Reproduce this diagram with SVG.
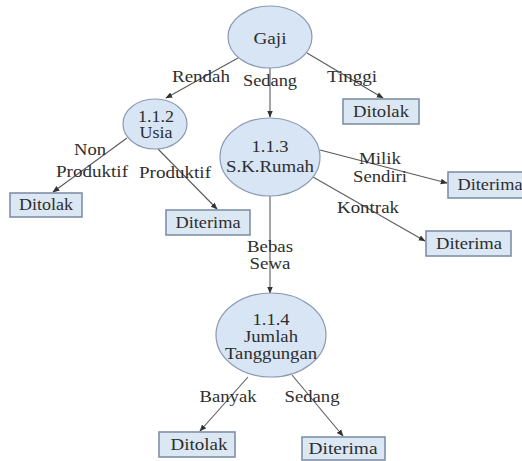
<svg xmlns="http://www.w3.org/2000/svg" width="522" height="461" viewBox="0 0 522 461">
<defs>
<marker id="arr" viewBox="0 0 10 10" refX="9" refY="5" markerWidth="7" markerHeight="7" orient="auto" markerUnits="userSpaceOnUse">
<path d="M0,1 L10,5 L0,9 Z" fill="#333"/>
</marker>
<style>
.bg{fill:#ffffff}
.ell{fill:#d8e5f4;stroke:#8a9ab2;stroke-width:1.2}
.box{fill:#dce7f4;stroke:#7f90a8;stroke-width:1.6}
.ln{stroke:#5a5a5a;stroke-width:1.1;fill:none;marker-end:url(#arr)}
text{font-family:"Liberation Serif","Times New Roman",serif;font-size:16px;fill:#2e2e2e;text-anchor:middle}
</style>
</defs>
<rect class="bg" x="0" y="0" width="522" height="461"/>
<g id="connectors">
<line class="ln" x1="238" y1="58" x2="166" y2="98"/>
<line class="ln" x1="270" y1="68" x2="270" y2="117"/>
<line class="ln" x1="307" y1="53" x2="383" y2="98"/>
<line class="ln" x1="127" y1="138" x2="53" y2="192"/>
<line class="ln" x1="158" y1="149" x2="217" y2="209"/>
<line class="ln" x1="320" y1="150" x2="447" y2="183"/>
<line class="ln" x1="313" y1="177" x2="425" y2="241"/>
<line class="ln" x1="270" y1="195" x2="270" y2="293"/>
<line class="ln" x1="248" y1="377" x2="200" y2="431"/>
<line class="ln" x1="292" y1="375" x2="343" y2="436"/>
<text x="201" y="82" textLength="58" lengthAdjust="spacingAndGlyphs">Rendah</text>
<text x="270" y="86" textLength="54" lengthAdjust="spacingAndGlyphs">Sedang</text>
<text x="352" y="82" textLength="50" lengthAdjust="spacingAndGlyphs">Tinggi</text>
<text x="90" y="155" textLength="32" lengthAdjust="spacingAndGlyphs">Non</text>
<text x="92" y="177" textLength="72" lengthAdjust="spacingAndGlyphs">Produktif</text>
<text x="175" y="178" textLength="72" lengthAdjust="spacingAndGlyphs">Produktif</text>
<text x="380" y="164" textLength="42" lengthAdjust="spacingAndGlyphs">Milik</text>
<text x="380" y="182" textLength="54" lengthAdjust="spacingAndGlyphs">Sendiri</text>
<text x="368" y="213" textLength="62" lengthAdjust="spacingAndGlyphs">Kontrak</text>
<text x="270" y="252" textLength="46" lengthAdjust="spacingAndGlyphs">Bebas</text>
<text x="270" y="269" textLength="41" lengthAdjust="spacingAndGlyphs">Sewa</text>
<text x="228" y="402" textLength="57" lengthAdjust="spacingAndGlyphs">Banyak</text>
<text x="312" y="402" textLength="55" lengthAdjust="spacingAndGlyphs">Sedang</text>
</g>
<g id="gaji">
<ellipse class="ell" cx="270" cy="37" rx="42" ry="31"/>
<text x="270" y="44" textLength="33" lengthAdjust="spacingAndGlyphs">Gaji</text>
</g>
<g id="usia">
<ellipse class="ell" cx="155" cy="124" rx="32" ry="25"/>
<text x="156" y="122" textLength="36" lengthAdjust="spacingAndGlyphs">1.1.2</text>
<text x="156" y="138" textLength="33" lengthAdjust="spacingAndGlyphs">Usia</text>
</g>
<g id="skrumah">
<ellipse class="ell" cx="270" cy="157" rx="50" ry="39"/>
<text x="270" y="152" textLength="37" lengthAdjust="spacingAndGlyphs">1.1.3</text>
<text x="270" y="172" textLength="88" lengthAdjust="spacingAndGlyphs">S.K.Rumah</text>
</g>
<g id="jumlah">
<ellipse class="ell" cx="271" cy="335" rx="55" ry="42"/>
<text x="271" y="325" textLength="37" lengthAdjust="spacingAndGlyphs">1.1.4</text>
<text x="271" y="342" textLength="54" lengthAdjust="spacingAndGlyphs">Jumlah</text>
<text x="271" y="359" textLength="92" lengthAdjust="spacingAndGlyphs">Tanggungan</text>
</g>
<g id="ditolak-tinggi">
<rect class="box" x="343" y="99" width="76" height="25"/>
<text x="381" y="117" textLength="56" lengthAdjust="spacingAndGlyphs">Ditolak</text>
</g>
<g id="ditolak-nonproduktif">
<rect class="box" x="10" y="193" width="72" height="24"/>
<text x="46" y="210" textLength="54" lengthAdjust="spacingAndGlyphs">Ditolak</text>
</g>
<g id="diterima-produktif">
<rect class="box" x="166" y="210" width="84" height="25"/>
<text x="208" y="228" textLength="65" lengthAdjust="spacingAndGlyphs">Diterima</text>
</g>
<g id="diterima-milik">
<rect class="box" x="448" y="172" width="78" height="26"/>
<text x="490" y="190" textLength="65" lengthAdjust="spacingAndGlyphs">Diterima</text>
</g>
<g id="diterima-kontrak">
<rect class="box" x="426" y="231" width="85" height="25"/>
<text x="469" y="249" textLength="66" lengthAdjust="spacingAndGlyphs">Diterima</text>
</g>
<g id="ditolak-banyak">
<rect class="box" x="159" y="432" width="76" height="25"/>
<text x="199" y="450" textLength="57" lengthAdjust="spacingAndGlyphs">Ditolak</text>
</g>
<g id="diterima-sedang">
<rect class="box" x="302" y="437" width="83" height="23"/>
<text x="343" y="454" textLength="69" lengthAdjust="spacingAndGlyphs">Diterima</text>
</g>
</svg>
